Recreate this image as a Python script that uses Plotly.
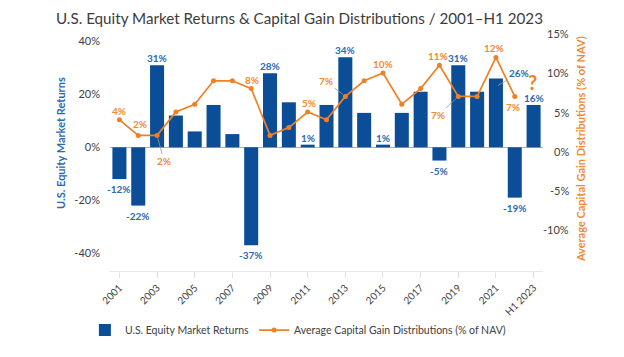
import plotly.graph_objects as go

# ---------------- data ----------------
years = ['2001', '2002', '2003', '2004', '2005', '2006', '2007', '2008', '2009', '2010',
         '2011', '2012', '2013', '2014', '2015', '2016', '2017', '2018', '2019', '2020',
         '2021', '2022', 'H1 2023']
equity_returns = [-12, -22, 31, 12, 6, 16, 5, -37, 28, 17, 1, 16, 34, 13, 1, 13, 21, -5, 31, 21,
                  26, -19, 16]
equity_labels = ['-12%', '-22%', '31%', '', '', '', '', '-37%', '28%', '', '1%', '', '34%', '',
                 '1%', '', '', '-5%', '31%', '', '26%', '-19%', '16%']
cap_gains = [4, 2, 2, 5, 6, 9, 9, 8, 2, 3, 5, 4, 7, 9, 10, 6, 8, 11, 7, 7, 12, 7, None]
cap_labels = ['4%', '2%', '2%', '', '', '', '', '8%', '', '', '5%', '', '7%', '', '10%', '', '',
              '11%', '7%', '', '12%', '7%', '']
tick_years = ['2001', '2003', '2005', '2007', '2009', '2011', '2013', '2015', '2017', '2019',
              '2021', 'H1 2023']
left_ticks = [-40, -20, 0, 20, 40]
right_ticks = [-10, -5, 0, 5, 10, 15]

# ---------------- style ----------------
BLUE = '#0b4d96'
BLUE_TXT = '#2d69b0'
ORANGE = '#ef8125'
ORANGE_TXT = '#ef8a33'
GRAY_TXT = '#404040'
FONT = 'Lato'

cap_label_style = {
    0: ('shift', 0, 9), 1: ('shift', 2, 11), 2: ('leader', 7, 26), 7: ('shift', 1, 9),
    10: ('shift', 1, 9), 12: ('leader', -19, -15), 14: ('shift', 0, 9), 17: ('shift', -1, 9),
    18: ('leader', -20, 19), 20: ('shift', -2, 9), 21: ('shift', -2, -11),
}

fig = go.Figure()
fig.add_trace(go.Bar(
    x=years, y=equity_returns, name='U.S. Equity Market Returns',
    marker=dict(color=BLUE, line=dict(width=0)), yaxis='y',
))
fig.add_trace(go.Scatter(
    x=years, y=cap_gains, name='Average Capital Gain Distributions (% of NAV)',
    mode='lines+markers', line=dict(color=ORANGE, width=1.7),
    marker=dict(color=ORANGE, size=5), yaxis='y2',
))

annotations = []
for i, (v, lab) in enumerate(zip(equity_returns, equity_labels)):
    if not lab:
        continue
    if years[i] == '2021':
        annotations.append(dict(x=i, y=v, xref='x', yref='y', text=lab, showarrow=True,
                                ax=21, ay=-12, arrowhead=0, arrowwidth=0.8, arrowcolor='#9a9a9a',
                                standoff=0, yshift=-7, xshift=2,
                                font=dict(family=FONT, size=10, color=BLUE_TXT, weight='bold')))
        continue
    annotations.append(dict(x=i, y=v, xref='x', yref='y', text=lab, showarrow=False,
                            yanchor='middle', yshift=7 if v >= 0 else -10,
                            font=dict(family=FONT, size=10, color=BLUE_TXT, weight='bold')))
annotations.append(dict(x=len(years) - 1, y=equity_returns[-1], xref='x', yref='y', text='?',
                        showarrow=False, yshift=23, xshift=-1,
                        font=dict(family=FONT, size=20, color=ORANGE, weight='bold')))
for i, (v, lab) in enumerate(zip(cap_gains, cap_labels)):
    if not lab:
        continue
    kind, dx, dy = cap_label_style[i]
    if kind == 'shift':
        annotations.append(dict(x=i, y=v, xref='x', yref='y2', text=lab, showarrow=False,
                                yanchor='middle', xshift=dx, yshift=dy,
                                font=dict(family=FONT, size=10, color=ORANGE_TXT, weight='bold')))
    else:
        annotations.append(dict(x=i, y=v, xref='x', yref='y2', text=lab, showarrow=True,
                                ax=dx, ay=dy, arrowhead=0, arrowwidth=0.8, arrowcolor='#9a9a9a',
                                standoff=3,
                                font=dict(family=FONT, size=10, color=ORANGE_TXT, weight='bold')))
for t in right_ticks:
    annotations.append(dict(x=1.064, y=t, xref='paper', yref='y2', text=f'{t}%', showarrow=False,
                            xanchor='right', yanchor='middle',
                            font=dict(family=FONT, size=11, color=GRAY_TXT)))
annotations.append(dict(x=-0.114, y=0.53, xref='paper', yref='paper',
                        text='U.S. Equity Market Returns', textangle=-90, showarrow=False,
                        xanchor='center', yanchor='middle',
                        font=dict(family=FONT, size=11, color=BLUE_TXT, weight='bold')))
annotations.append(dict(x=1.085, y=0.505, xref='paper', yref='paper',
                        text='Average Capital Gain Distributions (% of NAV)', textangle=-90,
                        showarrow=False, xanchor='center', yanchor='middle',
                        font=dict(family=FONT, size=11, color=ORANGE_TXT, weight='bold')))

fig.update_layout(
    width=624, height=357,
    margin=dict(l=110, r=81, t=30, b=86, autoexpand=False),
    paper_bgcolor='white', plot_bgcolor='white',
    font=dict(family=FONT, size=11, color=GRAY_TXT),
    title=dict(text='U.S. Equity Market Returns & Capital Gain Distributions / 2001\u2013H1 2023',
               x=56 / 624, xanchor='left', xref='container', y=1 - 19 / 357, yanchor='middle',
               font=dict(family=FONT, size=15.2, color='#3c3c3c')),
    bargap=0.255,
    showlegend=True,
    legend=dict(orientation='h', x=-0.058, xanchor='left', y=-0.245, yanchor='middle',
                font=dict(family=FONT, size=10.5, color=GRAY_TXT), bgcolor='rgba(0,0,0,0)',
                traceorder='normal'),
    xaxis=dict(type='category', categoryorder='array', categoryarray=years,
               range=[-0.5, len(years) - 0.5], autorange=False, automargin=False,
               tickmode='array', tickvals=tick_years, ticktext=tick_years, tickangle=-45,
               showline=True, linecolor='#e6e6e6', linewidth=1,
               ticks='outside', ticklen=6, tickcolor='#e3e3e3', tickwidth=1,
               showgrid=False, zeroline=False,
               tickfont=dict(family=FONT, size=10, color=GRAY_TXT)),
    yaxis=dict(range=[-46.7, 44.3], tickmode='array', tickvals=left_ticks,
               ticktext=[f'{t}%' for t in left_ticks], showgrid=False, automargin=False,
               zeroline=True, zerolinecolor='#b0b0b0', zerolinewidth=1,
               showline=False, ticks='', ticklabelstandoff=9,
               tickfont=dict(family=FONT, size=11, color=GRAY_TXT)),
    yaxis2=dict(range=[-15.38, 15.51], overlaying='y', side='right', showgrid=False,
                automargin=False,
                zeroline=False, showticklabels=False, ticks='', showline=False),
    annotations=annotations,
)

fig.write_html('out.html', config={'displayModeBar': False},
               post_script="document.body.style.margin='0';")
